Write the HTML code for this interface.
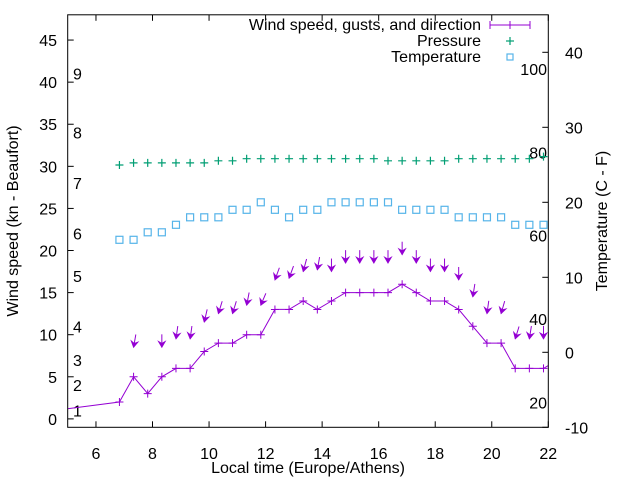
<!DOCTYPE html>
<html><head><meta charset="utf-8"><style>
html,body{margin:0;padding:0;background:#fff;}
svg{display:block;font-family:"Liberation Sans",Arial,sans-serif;}
</style></head><body>
<svg id="chart" width="640" height="480" viewBox="0 0 640 480" xmlns="http://www.w3.org/2000/svg">
<defs><clipPath id="plotclip"><rect x="67.7" y="14.8" width="480.6" height="412.5"/></clipPath></defs>
<g id="axes"></g>
<g id="marks" clip-path="url(#plotclip)"></g>
<rect x="67.7" y="14.8" width="480.6" height="412.5" fill="none" stroke="#000" stroke-width="1"/>
<text transform="translate(18,221) rotate(-90)" text-anchor="middle" font-size="16">Wind speed (kn - Beaufort)</text>
<text transform="translate(607,221) rotate(-90)" text-anchor="middle" font-size="16">Temperature (C - F)</text>
<text x="308" y="473" text-anchor="middle" font-size="16">Local time (Europe/Athens)</text>
<g>
<text x="481" y="30" text-anchor="end" font-size="16">Wind speed, gusts, and direction</text>
<g stroke="#9400d3" stroke-width="1">
<line x1="490" y1="25" x2="530" y2="25"/><line x1="490" y1="21" x2="490" y2="29"/><line x1="530" y1="21" x2="530" y2="29"/><line x1="506" y1="25" x2="514" y2="25"/><line x1="510" y1="21" x2="510" y2="29"/></g>
<text x="481" y="46" text-anchor="end" font-size="16">Pressure</text>
<g stroke="#009e73" stroke-width="1.2"><line x1="506" y1="41" x2="514" y2="41"/><line x1="510" y1="37" x2="510" y2="45"/></g>
<text x="481" y="62" text-anchor="end" font-size="16">Temperature</text>
<rect x="507" y="54" width="6" height="6" fill="none" stroke="#56b4e9" stroke-width="1.2"/>
</g>
</svg>
<script>
const times = [6.83,7.33,7.83,8.33,8.83,9.33,9.83,10.33,10.83,11.33,11.83,12.33,12.83,13.33,13.83,14.33,14.83,15.33,15.83,16.33,16.83,17.33,17.83,18.33,18.83,19.33,19.83,20.33,20.83,21.33,21.83];
const windTimes = [3.83].concat(times, [22.33]);
const windSpeed = [0.7,2,5,3,5,6,6,8,9,9,10,10,13,13,14,13,14,15,15,15,15,16,15,14,14,13,11,9,9,6,6,6,7];
const gusts = [null,8,null,8,9,9,11,12,12,13,13,16,16.2,17,17.2,17,18,18,18,18,19,18,17,17,16,14,12,12,9,9,9];
const windDir = [0,10,0,0,8,8,13,17,17,11,23,20,20,15,10,0,0,0,0,0,0,0,0,0,0,9,8,16,17,9,0];
const pressure = [1012,1013,1013,1013,1013,1013,1013,1014,1014,1015,1015,1015,1015,1015,1015,1015,1015,1015,1015,1014,1014,1014,1014,1014,1015,1015,1015,1015,1015,1015,1016];
const temperature = [15,15,16,16,17,18,18,18,19,19,20,19,18,19,19,20,20,20,20,20,19,19,19,19,18,18,18,18,17,17,17];
const xTicks = [6,8,10,12,14,16,18,20,22];
const yTicks = [0,5,10,15,20,25,30,35,40,45];
const y2Ticks = [-10,0,10,20,30,40];
const beaufortLabels = ["1","2","3","4","5","6","7","8","9"];
const beaufortKn = [1,4,7,11,17,22,28,34,41];
const fahrenheitLabels = ["20","40","60","80","100"];
const fahrenheitVals = [20,40,60,80,100];

const L=67.7,R=548.3,T=14.8,B=427.3;
const xMin=5,xMax=22,yMin=-1,yMax=48,y2Min=-10,y2Max=45;
function X(t){return L+(t-xMin)/(xMax-xMin)*(R-L);}
function Y(v){return B-(v-yMin)/(yMax-yMin)*(B-T);}
function Y2(c){return B-(c-y2Min)/(y2Max-y2Min)*(B-T);}
function YP(p){return 165-(p-1012)*2.1;}
const NS="http://www.w3.org/2000/svg";
function mk(tag,attrs,parent,txt){const e=document.createElementNS(NS,tag);for(const k in attrs)e.setAttribute(k,attrs[k]);if(txt!==undefined)e.textContent=txt;parent.appendChild(e);return e;}
const axes=document.getElementById('axes'),marks=document.getElementById('marks');

xTicks.forEach(t=>{
  const x=X(t);
  const a=mk('line',{x1:x,y1:B,x2:x,y2:B-6,stroke:'#000'},axes);
  
  
  const b=mk('line',{x1:x,y1:T,x2:x,y2:T+6,stroke:'#000'},axes);
  
  
  const l=mk('text',{x:x,y:459,'text-anchor':'middle','font-size':16},axes,String(t));
  
  
});
yTicks.forEach(v=>{
  const y=Y(v);
  const a=mk('line',{x1:L,y1:y,x2:L+6,y2:y,stroke:'#000'},axes);
  
  
  const l=mk('text',{x:57,y:y+6,'text-anchor':'end','font-size':16},axes,String(v));
  
  
});
y2Ticks.forEach(v=>{
  const y=Y2(v);
  const a=mk('line',{x1:R,y1:y,x2:R-6,y2:y,stroke:'#000'},axes);
  
  
  const l=mk('text',{x:565,y:y+6,'font-size':16},axes,String(v));
  
  
});
beaufortKn.forEach((k,i)=>{
  const l=mk('text',{x:73,y:Y(k)+6,'font-size':16},axes,beaufortLabels[i]);
  
  
});
fahrenheitVals.forEach((f,i)=>{
  const l=mk('text',{x:547,y:Y2((f-32)*5/9)+6,'text-anchor':'end','font-size':16},axes,fahrenheitLabels[i]);
  
  
});

// wind line
const pts=windTimes.map((t,i)=>X(t).toFixed(1)+','+Y(windSpeed[i]).toFixed(1)).join(' ');
const wl=mk('polyline',{points:pts,fill:'none',stroke:'#9400d3','stroke-width':1},marks);


windTimes.forEach((t,i)=>{
  const x=X(t),y=Y(windSpeed[i]);
  const g=mk('path',{d:`M${x-4},${y}H${x+4}M${x},${y-4}V${y+4}`,stroke:'#9400d3','stroke-width':1},marks);
  
  
});
// gust arrows
times.forEach((t,i)=>{
  if(gusts[i]===null)return;
  const hx=X(t),hy=Y(gusts[i]+0.5);
  const a=windDir[i]*Math.PI/180,len=13;
  const tx=hx+len*Math.sin(a),ty=hy-len*Math.cos(a);
  const ux=(hx-tx)/len,uy=(hy-ty)/len;
  const px=-uy,py=ux;
  const bx=hx-ux*6,by=hy-uy*6;
  const g=mk('g',{},marks);
  
  
  mk('line',{x1:tx,y1:ty,x2:hx,y2:hy,stroke:'#9400d3','stroke-width':1},g);
  mk('path',{d:`M${hx},${hy}L${bx+px*3.5},${by+py*3.5}L${bx+ux*2},${by+uy*2}L${bx-px*3.5},${by-py*3.5}Z`,fill:'#9400d3',stroke:'#9400d3','stroke-width':0.8},g);
});
// pressure
times.forEach((t,i)=>{
  const x=X(t),y=YP(pressure[i]);
  const p=mk('path',{d:`M${x-4},${y}H${x+4}M${x},${y-4}V${y+4}`,stroke:'#009e73','stroke-width':1.2},marks);
  
  
});
// temperature
times.forEach((t,i)=>{
  const x=X(t),y=Y2(temperature[i]);
  const s=mk('rect',{x:x-3.5,y:y-3.5,width:7,height:7,fill:'none',stroke:'#56b4e9','stroke-width':1.2},marks);
  
  
});
</script>
</body></html>
